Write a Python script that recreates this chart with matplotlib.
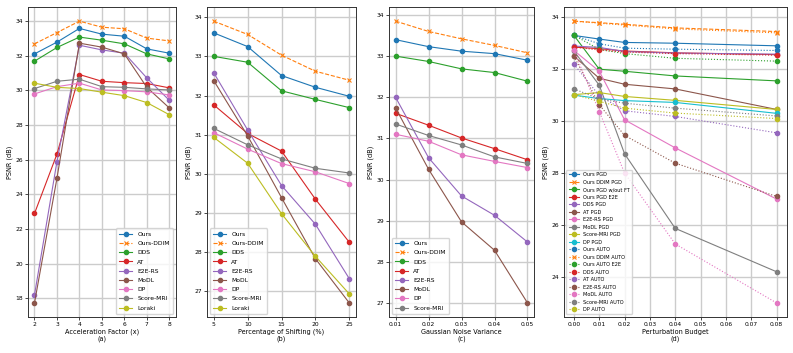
import numpy as np
import matplotlib.pyplot as plt
from matplotlib.ticker import MultipleLocator

# (a) acceleration factor
acc = [2, 3, 4, 5, 6, 7, 8]
acc_names = ['Ours', 'Ours-DDIM', 'DDS', 'AT', 'E2E-RS', 'MoDL', 'DP', 'Score-MRI', 'Loraki']
acc_ours = [32.11, 32.79, 33.58, 33.25, 33.13, 32.40, 32.15]
acc_ddim = [32.69, 33.34, 34.00, 33.65, 33.56, 33.02, 32.86]
acc_dds = [31.69, 32.48, 33.08, 32.90, 32.69, 32.11, 31.82]
acc_at = [22.90, 26.33, 30.92, 30.53, 30.45, 30.40, 30.15]
acc_e2e = [18.20, 25.90, 32.61, 32.34, 32.15, 30.72, 29.43]
acc_modl = [17.74, 24.94, 32.73, 32.50, 32.11, 30.18, 28.99]
acc_dp = [29.80, 30.22, 30.42, 30.03, 29.99, 29.92, 29.74]
acc_score = [30.11, 30.53, 30.65, 30.22, 30.18, 30.09, 30.03]
acc_loraki = [30.42, 30.18, 30.11, 29.90, 29.70, 29.30, 28.60]

# (b) percentage of shifting
shift = [5, 10, 15, 20, 25]
shift_ours = [33.60, 33.25, 32.51, 32.21, 31.98]
shift_ddim = [33.90, 33.56, 33.03, 32.62, 32.39]
shift_dds = [33.00, 32.85, 32.12, 31.90, 31.69]
shift_at = [31.76, 31.03, 30.58, 29.35, 28.25]
shift_e2e = [32.58, 31.12, 29.70, 28.71, 27.32]
shift_modl = [32.38, 30.97, 29.39, 27.83, 26.70]
shift_dp = [31.05, 30.63, 30.26, 30.05, 29.75]
shift_score = [31.16, 30.74, 30.38, 30.14, 30.02]
shift_loraki = [30.93, 30.27, 28.98, 27.89, 26.93]

# (c) gaussian noise variance
noise = [0.01, 0.02, 0.03, 0.04, 0.05]
noise_names = ['Ours', 'Ours-DDIM', 'DDS', 'AT', 'E2E-RS', 'MoDL', 'DP', 'Score-MRI']
noise_ours = [33.40, 33.23, 33.12, 33.06, 32.90]
noise_ddim = [33.85, 33.60, 33.42, 33.26, 33.08]
noise_dds = [33.00, 32.87, 32.69, 32.60, 32.39]
noise_at = [31.61, 31.32, 31.01, 30.75, 30.48]
noise_e2e = [32.00, 30.53, 29.60, 29.13, 28.48]
noise_modl = [31.74, 30.25, 28.97, 28.28, 27.00]
noise_dp = [31.10, 30.93, 30.60, 30.44, 30.29]
noise_score = [31.35, 31.07, 30.84, 30.55, 30.39]

# (d) perturbation budget
budget = [0.00, 0.01, 0.02, 0.04, 0.08]
pgd_names = ['Ours PGD', 'Ours DDIM PGD', 'Ours PGD w/out FT', 'Ours PGD E2E', 'DDS PGD',
             'AT PGD', 'E2E-RS PGD', 'MoDL PGD', 'Score-MRI PGD', 'DP PGD']
pgd_vals = [
    [33.30, 33.16, 33.03, 33.00, 32.90],
    [33.85, 33.79, 33.73, 33.59, 33.45],
    [33.30, 32.00, 31.92, 31.74, 31.55],
    [32.85, 32.79, 32.70, 32.63, 32.56],
    [32.89, 32.84, 32.68, 32.62, 32.58],
    [32.50, 31.65, 31.42, 31.24, 30.45],
    [32.72, 31.92, 30.05, 28.97, 27.00],
    [32.70, 31.38, 28.74, 25.87, 24.20],
    [31.02, 31.10, 30.95, 30.80, 30.45],
    [31.00, 30.87, 30.79, 30.72, 30.30],
]
auto_names = ['Ours AUTO', 'Ours DDIM AUTO', 'Ours AUTO E2E', 'DDS AUTO', 'AT AUTO',
              'E2E-RS AUTO', 'MoDL AUTO', 'Score-MRI AUTO', 'DP AUTO']
auto_vals = [
    [33.30, 32.98, 32.81, 32.77, 32.72],
    [33.85, 33.77, 33.70, 33.55, 33.40],
    [33.31, 32.76, 32.60, 32.42, 32.31],
    [32.85, 32.74, 32.66, 32.60, 32.54],
    [32.19, 30.98, 30.40, 30.18, 29.55],
    [32.50, 30.63, 29.45, 28.38, 27.10],
    [32.72, 30.37, 28.00, 25.27, 23.00],
    [31.24, 30.86, 30.69, 30.50, 30.20],
    [31.02, 30.76, 30.50, 30.31, 30.10],
]

TICK = 4.3
LAB = 4.7
LW = 0.8
MS = 3.0

plt.rcParams['axes.edgecolor'] = '#333333'
plt.rcParams['axes.linewidth'] = 0.7

fig = plt.figure(figsize=(7.93, 3.53), dpi=100)
ax_a = fig.add_axes([0.035, 0.102, 0.187, 0.878])
ax_b = fig.add_axes([0.261, 0.102, 0.188, 0.878])
ax_c = fig.add_axes([0.4905, 0.102, 0.183, 0.878])
ax_d = fig.add_axes([0.711, 0.102, 0.281, 0.878])


def draw(ax, x, series, names):
    for vals, name in zip(series, names):
        if 'DDIM' in name:
            ax.plot(x, vals, '--', marker='x', lw=LW, ms=MS + 0.3, mew=0.8, label=name)
        else:
            ax.plot(x, vals, '-', marker='o', lw=LW, ms=MS, label=name)


def style(ax, xlabel, ystep):
    ax.grid(True, color='#cccccc', linewidth=1.0)
    ax.set_axisbelow(True)
    ax.yaxis.set_major_locator(MultipleLocator(ystep))
    ax.tick_params(labelsize=TICK, length=2, width=0.5, pad=1.5)
    ax.set_xlabel(xlabel, fontsize=LAB, labelpad=1.5, linespacing=1.1)
    ax.set_ylabel('PSNR (dB)', fontsize=LAB, labelpad=1.5)


leg_kw = dict(fontsize=4.3, handlelength=2.2, labelspacing=0.68, borderpad=0.55)

draw(ax_a, acc, [acc_ours, acc_ddim, acc_dds, acc_at, acc_e2e, acc_modl, acc_dp, acc_score, acc_loraki], acc_names)
style(ax_a, 'Acceleration Factor (x)\n(a)', 2)
ax_a.set_xticks(acc)
ax_a.legend(loc='lower right', **leg_kw)

draw(ax_b, shift, [shift_ours, shift_ddim, shift_dds, shift_at, shift_e2e, shift_modl, shift_dp, shift_score, shift_loraki], acc_names)
style(ax_b, 'Percentage of Shifting (%)\n(b)', 1)
ax_b.set_xticks(shift)
ax_b.legend(loc='lower left', **leg_kw)

draw(ax_c, noise, [noise_ours, noise_ddim, noise_dds, noise_at, noise_e2e, noise_modl, noise_dp, noise_score], noise_names)
style(ax_c, 'Gaussian Noise Variance\n(c)', 1)
ax_c.set_xticks(noise)
ax_c.legend(loc='lower left', **leg_kw)

# (d): solid for PGD, dotted for AUTO, colours follow the default cycle
for vals, name in zip(pgd_vals, pgd_names):
    if 'DDIM' in name:
        ax_d.plot(budget, vals, '--', marker='x', lw=LW, ms=MS + 0.3, mew=0.8, label=name)
    else:
        ax_d.plot(budget, vals, '-', marker='o', lw=LW, ms=MS, label=name)
for vals, name in zip(auto_vals, auto_names):
    if 'DDIM' in name:
        ax_d.plot(budget, vals, ':', marker='x', lw=LW, ms=MS + 0.3, mew=0.8, label=name)
    else:
        ax_d.plot(budget, vals, ':', marker='o', lw=LW, ms=MS, label=name)
style(ax_d, 'Perturbation Budget\n(d)', 2)
ax_d.xaxis.set_major_locator(MultipleLocator(0.01))
ax_d.legend(loc='lower left', fontsize=3.6, handlelength=2.0, labelspacing=0.5, borderpad=0.45)

fig.savefig('out.png', dpi=100)
